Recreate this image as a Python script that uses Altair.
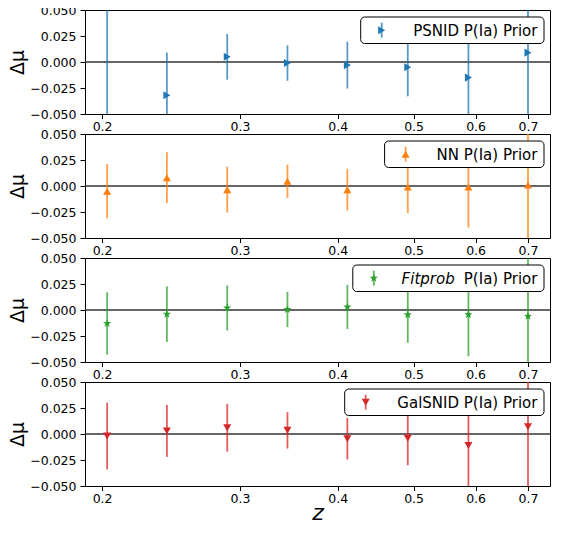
import math
import altair as alt
import pandas as pd

# redshift bin centres
z = [0.203, 0.242, 0.289, 0.345, 0.4115, 0.4915, 0.5875, 0.700]

psnid_mu = [-0.065, -0.032, 0.005, -0.001, -0.003, -0.005, -0.015, 0.009]
psnid_err = [0.12, 0.041, 0.022, 0.017, 0.0225, 0.028, 0.036, 0.07]

nn_mu = [-0.005, 0.008, -0.0035, 0.0045, -0.0035, -0.001, -0.001, 0.001]
nn_err = [0.026, 0.0245, 0.022, 0.016, 0.020, 0.025, 0.039, 0.06]

fit_mu = [-0.013, -0.004, 0.002, 0.0005, 0.003, -0.0045, -0.0045, -0.006]
fit_err = [0.030, 0.0267, 0.0217, 0.017, 0.0213, 0.027, 0.040, 0.06]

gal_mu = [-0.002, 0.003, 0.006, 0.0035, -0.0045, -0.004, -0.011, 0.007]
gal_err = [0.032, 0.025, 0.023, 0.0175, 0.020, 0.026, 0.045, 0.06]

x_ticks = [0.2, 0.3, 0.4, 0.5, 0.6, 0.7]
y_ticks = [-0.05, -0.025, 0.0, 0.025, 0.05]

W, H = 465, 104
FONT = "DejaVu Sans"

# 5-point star symbol as an SVG path in unit space
_pts = []
for k in range(10):
    r = 1.0 if k % 2 == 0 else 0.4
    a = math.radians(-90 + 36 * k)
    _pts.append(f"{r * math.cos(a):.3f},{r * math.sin(a):.3f}")
STAR = "M" + " L".join(_pts) + " Z"

# label, italic prefix, values, errors, colour, marker, legend-box width, marker size
panels_spec = [
    ("PSNID P(Ia) Prior", None, psnid_mu, psnid_err, "#1f77b4", "triangle-right", 183.3, 65),
    ("NN P(Ia) Prior", None, nn_mu, nn_err, "#ff7f0e", "triangle-up", 159.4, 65),
    ("P(Ia) Prior", "Fitprob", fit_mu, fit_err, "#2ca02c", STAR, 191.2, 75),
    ("GalSNID P(Ia) Prior", None, gal_mu, gal_err, "#d62728", "triangle-down", 199.3, 65),
]

xscale = alt.Scale(type="log", domain=[0.1902, 0.7468], nice=False)
yscale = alt.Scale(domain=[-0.05, 0.05], nice=False, zero=False)

panels = []
for i, (label, ital, mu, err, color, shape, box_w, msize) in enumerate(panels_spec):
    last = i == len(panels_spec) - 1
    df = pd.DataFrame({
        "z": z,
        "mu": mu,
        "lo": [m - e for m, e in zip(mu, err)],
        "hi": [m + e for m, e in zip(mu, err)],
    })
    xaxis = alt.Axis(values=x_ticks, format=".1f", grid=False, domain=False,
                     tickSize=4.5, labelPadding=2, title="z" if last else None,
                     titleFontStyle="italic", titleFontSize=22, titleFontWeight="normal",
                     titlePadding=-3)
    yaxis = alt.Axis(values=y_ticks, format=".3f", grid=False, domain=False,
                     tickSize=5, labelPadding=4, title="Δμ", titleFontSize=19,
                     titleFontWeight="normal", titlePadding=2)
    X = alt.X("z:Q", scale=xscale, axis=xaxis)

    zero_df = pd.DataFrame({"zero": [0.0]})
    zero = alt.Chart(zero_df).mark_rule(color="#333333", strokeWidth=1.7).encode(
        y=alt.Y("zero:Q", scale=yscale, axis=yaxis)
    )
    bars = alt.Chart(df).mark_rule(color=color, strokeWidth=1.8, opacity=0.75, clip=True).encode(
        x=X, y=alt.Y("lo:Q", scale=yscale, axis=yaxis), y2="hi:Q"
    )
    pts = alt.Chart(df).mark_point(shape=shape, filled=True, size=msize, color=color,
                                   opacity=1, clip=True).encode(
        x=X, y=alt.Y("mu:Q", scale=yscale, axis=yaxis)
    )

    one = pd.DataFrame({"k": [0]})
    box_r = W - 6
    box_l = box_r - box_w
    box = alt.Chart(one).mark_rect(fill="white", stroke="black", strokeWidth=1,
                                   cornerRadius=4).encode(
        x=alt.value(box_l), x2=alt.value(box_r), y=alt.value(7), y2=alt.value(33.5)
    )
    sx = box_l + 21
    sym_bar = alt.Chart(one).mark_rule(color=color, strokeWidth=1.8, opacity=0.75).encode(
        x=alt.value(sx), y=alt.value(12.7), y2=alt.value(27.7)
    )
    sym_pt = alt.Chart(one).mark_point(shape=shape, filled=True, size=msize, color=color,
                                       opacity=1).encode(
        x=alt.value(sx), y=alt.value(20.2)
    )
    txt = alt.Chart(one).mark_text(align="right", baseline="middle", fontSize=15,
                                   font=FONT, color="black").encode(
        x=alt.value(box_r - 6.6), y=alt.value(20.5), text=alt.value(label)
    )
    layers = [zero, bars, pts, box, sym_bar, sym_pt, txt]
    if ital:
        itxt = alt.Chart(one).mark_text(align="left", baseline="middle", fontSize=15,
                                        font=FONT, fontStyle="italic", color="black").encode(
            x=alt.value(box_l + 48.8), y=alt.value(20.5), text=alt.value(ital)
        )
        layers.append(itxt)
    panels.append(alt.layer(*layers).properties(width=W, height=H))

chart = alt.vconcat(*panels, spacing=20, bounds="flush").properties(
    padding={"left": 0, "top": -5, "right": 0, "bottom": -4}
).configure_view(
    stroke="black", strokeWidth=1
).configure_axis(
    labelFont=FONT, titleFont=FONT, labelFontSize=12.5, labelColor="black",
    titleColor="black", tickColor="black", tickWidth=1
)

chart.save("out.html", embed_options={"renderer": "svg", "actions": False})
